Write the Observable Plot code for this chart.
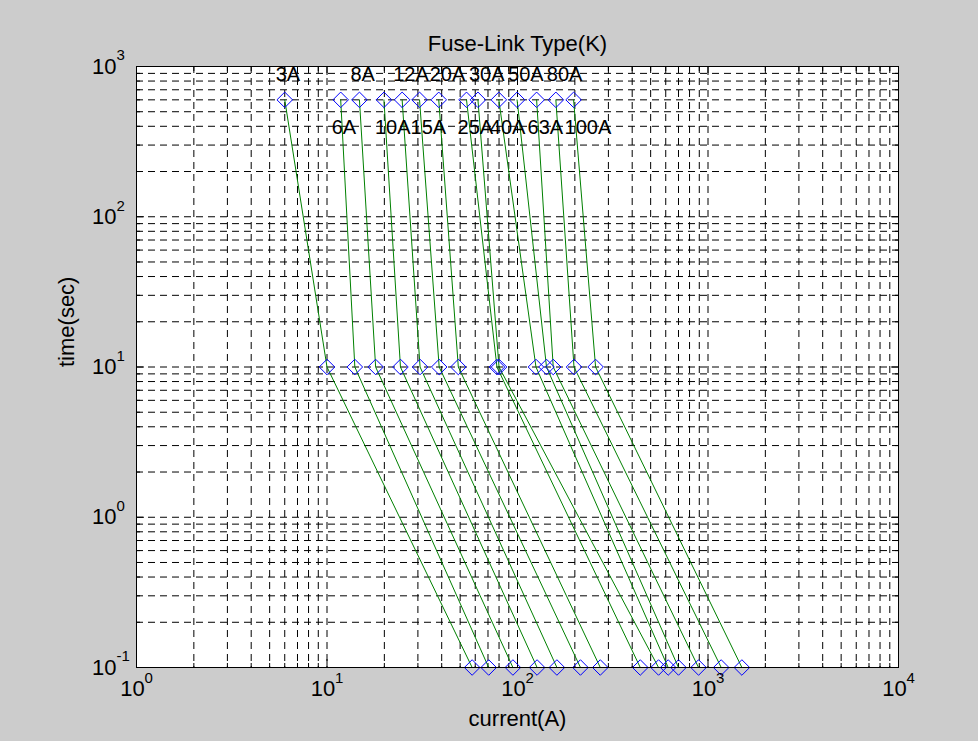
<!DOCTYPE html>
<html><head><meta charset="utf-8">
<script src="https://cdn.jsdelivr.net/npm/d3@7"></script>
<script src="https://cdn.jsdelivr.net/npm/@observablehq/plot@0.6"></script>
<style>
html,body{margin:0;padding:0;background:#cccccc;}
#chart{width:978px;height:741px;}
</style></head><body><div id="chart"></div>
<script>
// ---- data ----
const fuses = ["3A","6A","8A","10A","12A","15A","20A","25A","30A","40A","50A","63A","80A","100A"];
const times = [600, 10, 0.1];
const current600 = [6.0, 11.8, 14.8, 19.9, 24.8, 30.6, 38.6, 54, 62, 79.8, 99.5, 126, 159, 197];
const current10  = [10.0, 14.0, 18.0, 24.3, 30.8, 38.8, 48.9, 78, 80, 125, 142, 154, 198, 257];
const current01  = [57.8, 70.6, 94.6, 126.7, 161, 214, 272, 441, 550, 618, 700, 892, 1173, 1506];
const labelTimes = [880, 390]; // upper / lower label rows
const xDecades = [1, 10, 100, 1000, 10000];
const xExponents = ["0", "1", "2", "3", "4"];
const yDecades = [0.1, 1, 10, 100, 1000];
const yExponents = ["-1", "0", "1", "2", "3"];
const titleText = "Fuse-Link Type(K)";
const xLabel = "current(A)";
const yLabel = "time(sec)";

// ---- derived tables ----
const points = [];
fuses.forEach((f, i) => {
  [current600[i], current10[i], current01[i]].forEach((c, j) => points.push({fuse: f, current: c, time: times[j]}));
});
const labels = fuses.map((f, i) => ({fuse: f, current: current600[i], time: labelTimes[i % 2]}));
const gridX = [];
for (let k = 0; k < 4; k++) for (let m = 1; m <= 9; m++) gridX.push(+(m * Math.pow(10, k)).toPrecision(6));
gridX.push(10000);
const gridY = [];
for (let k = -1; k < 3; k++) for (let m = 1; m <= 9; m++) gridY.push(+(m * Math.pow(10, k)).toPrecision(6));
gridY.push(1000);
const minorX = gridX.filter(v => !xDecades.includes(v));
const minorY = gridY.filter(v => !yDecades.includes(v));

const font = "'Liberation Sans', Arial, sans-serif";
const dash = "7,5";
const chart = Plot.plot({
  width: 978, height: 741,
  marginLeft: 136, marginRight: 80, marginTop: 66, marginBottom: 74,
  style: {background: "transparent", fontFamily: font, color: "black"},
  x: {type: "log", domain: [1, 10000], axis: null},
  y: {type: "log", domain: [0.1, 1000], axis: null},
  marks: [
    Plot.frame({fill: "white", stroke: null}),
    Plot.ruleX(gridX, {stroke: "black", strokeDasharray: dash, strokeWidth: 1}),
    Plot.ruleY(gridY, {stroke: "black", strokeDasharray: dash, strokeWidth: 1}),
    Plot.axisX(xDecades, {anchor: "bottom", tickSize: -8, tickFormat: () => "", label: null}),
    Plot.axisX(xDecades, {anchor: "top", tickSize: -8, tickFormat: () => "", label: null}),
    Plot.axisX(minorX, {anchor: "bottom", tickSize: -4, tickFormat: () => "", label: null}),
    Plot.axisX(minorX, {anchor: "top", tickSize: -4, tickFormat: () => "", label: null}),
    Plot.axisY(yDecades, {anchor: "left", tickSize: -8, tickFormat: () => "", label: null}),
    Plot.axisY(yDecades, {anchor: "right", tickSize: -8, tickFormat: () => "", label: null}),
    Plot.axisY(minorY, {anchor: "left", tickSize: -4, tickFormat: () => "", label: null}),
    Plot.axisY(minorY, {anchor: "right", tickSize: -4, tickFormat: () => "", label: null}),
    Plot.line(points, {x: "current", y: "time", z: "fuse", stroke: "#008000", strokeWidth: 1}),
    Plot.dot(points, {x: "current", y: "time", symbol: "diamond2", r: 7, stroke: "#0000ff", fill: "none", strokeWidth: 1}),
    Plot.text(labels, {x: "current", y: "time", text: "fuse", textAnchor: "start", dx: -9, fontSize: 20, fill: "black"}),
    Plot.frame({stroke: "black", strokeWidth: 1}),
    // tick labels
    Plot.text(xDecades, {x: d => d, text: () => "10", frameAnchor: "bottom", dy: 28, dx: -4, fontSize: 22, fill: "black"}),
    Plot.text(xDecades, {x: d => d, text: (d, i) => xExponents[i], frameAnchor: "bottom", dy: 15, dx: 8, textAnchor: "start", fontSize: 15, fill: "black"}),
    Plot.text(yDecades, {y: d => d, text: () => "10", frameAnchor: "left", dx: -20, textAnchor: "end", fontSize: 22, fill: "black"}),
    Plot.text(yDecades, {y: d => d, text: (d, i) => yExponents[i], frameAnchor: "left", dx: -20, dy: -11, textAnchor: "start", fontSize: 15, fill: "black"}),
    // title and axis labels
    Plot.text([titleText], {text: d => d, frameAnchor: "top", dy: -31, fontSize: 22, fill: "black"}),
    Plot.text([xLabel], {text: d => d, frameAnchor: "bottom", dy: 58, fontSize: 22, fill: "black"}),
    Plot.text([yLabel], {text: d => d, frameAnchor: "left", dx: -70, rotate: -90, fontSize: 22, fill: "black"})
  ]
});
document.getElementById("chart").append(chart);
</script></body></html>
